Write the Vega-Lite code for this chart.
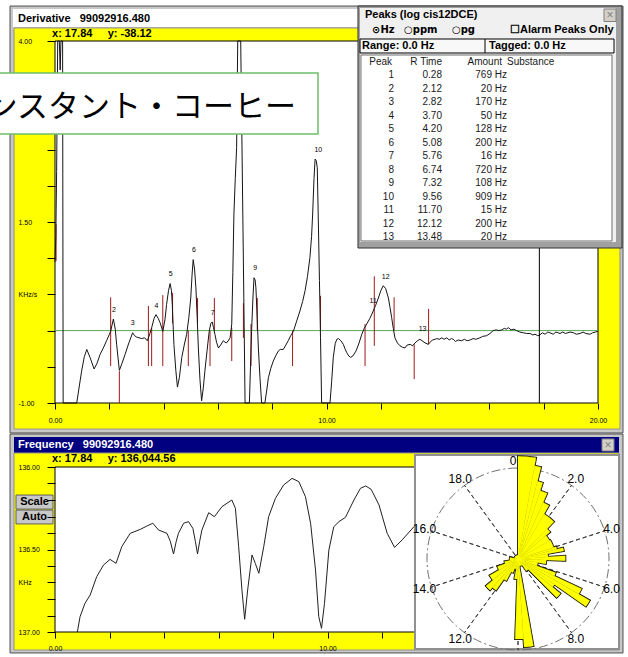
{
  "$schema": "https://vega.github.io/schema/vega-lite/v6.json",
  "width": 628,
  "height": 657,
  "autosize": {"type": "none"},
  "padding": 0,
  "background": "#ffffff",
  "config": {
    "font": "Liberation Sans",
    "view": {"stroke": null},
    "axis": {"labelFont": "Liberation Sans", "labelFontSize": 7, "labelColor": "#000000", "tickColor": "#000000", "tickWidth": 1, "grid": false, "domain": false, "labelFlush": false, "labelOverlap": false, "labelBound": false}
  },
  "datasets": {
    "deriv": [
      {"t":0.00,"v":0.95},{"t":0.03,"v":1.3},{"t":0.06,"v":2.2},{"t":0.10,"v":4.0},{"t":0.16,"v":4.0},{"t":0.19,"v":3.6},{"t":0.22,"v":4.0},{"t":0.28,"v":4.0},{"t":0.30,"v":-1.0},{"t":0.80,"v":-1.0},
      {"t":0.98,"v":-0.56},{"t":1.08,"v":-0.36},{"t":1.17,"v":-0.26},{"t":1.29,"v":-0.37},{"t":1.44,"v":-0.53},{"t":1.55,"v":-0.45},{"t":1.66,"v":-0.33},{"t":1.78,"v":-0.24},{"t":1.90,"v":-0.14},{"t":2.05,"v":-0.01},
      {"t":2.15,"v":0.16},{"t":2.22,"v":0.02},{"t":2.27,"v":-0.19},{"t":2.37,"v":-0.55},{"t":2.47,"v":-0.45},{"t":2.58,"v":-0.33},{"t":2.72,"v":-0.17},{"t":2.86,"v":-0.03},{"t":2.93,"v":-0.07},{"t":3.01,"v":-0.09},
      {"t":3.19,"v":-0.11},{"t":3.30,"v":-0.10},{"t":3.40,"v":-0.14},{"t":3.48,"v":-0.06},{"t":3.56,"v":0.04},{"t":3.65,"v":0.17},{"t":3.72,"v":0.22},{"t":3.80,"v":0.17},{"t":3.87,"v":0.11},{"t":3.97,"v":-0.01},
      {"t":4.05,"v":0.15},{"t":4.11,"v":0.36},{"t":4.18,"v":0.55},{"t":4.24,"v":0.65},{"t":4.29,"v":0.55},{"t":4.32,"v":0.36},{"t":4.38,"v":-0.19},{"t":4.45,"v":-0.55},{"t":4.51,"v":-0.78},{"t":4.58,"v":-0.65},
      {"t":4.67,"v":-0.37},{"t":4.76,"v":-0.20},{"t":4.85,"v":-0.05},{"t":4.93,"v":0.18},{"t":5.00,"v":0.45},{"t":5.05,"v":0.78},{"t":5.09,"v":0.98},{"t":5.14,"v":0.85},{"t":5.19,"v":0.59},{"t":5.24,"v":0.15},
      {"t":5.28,"v":-0.24},{"t":5.34,"v":-0.68},{"t":5.40,"v":-0.97},{"t":5.46,"v":-0.80},{"t":5.52,"v":-0.56},{"t":5.60,"v":-0.28},{"t":5.68,"v":-0.01},{"t":5.74,"v":0.10},{"t":5.79,"v":0.12},{"t":5.84,"v":0.04},
      {"t":5.89,"v":-0.05},{"t":5.95,"v":-0.16},{"t":6.02,"v":-0.24},{"t":6.10,"v":-0.20},{"t":6.20,"v":-0.14},{"t":6.26,"v":-0.16},{"t":6.32,"v":-0.17},{"t":6.40,"v":-0.13},{"t":6.45,"v":-0.10},{"t":6.51,"v":0.09},
      {"t":6.55,"v":0.80},{"t":6.59,"v":1.61},{"t":6.64,"v":2.10},{"t":6.69,"v":2.53},{"t":6.73,"v":4.0},{"t":6.84,"v":4.0},{"t":6.88,"v":2.76},{"t":6.94,"v":0.92},{"t":7.00,"v":-1.0},{"t":7.16,"v":-1.0},
      {"t":7.20,"v":-0.50},{"t":7.24,"v":-0.01},{"t":7.29,"v":0.45},{"t":7.33,"v":0.73},{"t":7.37,"v":0.70},{"t":7.40,"v":0.59},{"t":7.45,"v":0.15},{"t":7.49,"v":-0.24},{"t":7.55,"v":-0.65},{"t":7.61,"v":-1.0},
      {"t":7.73,"v":-1.0},{"t":7.80,"v":-0.82},{"t":7.86,"v":-0.65},{"t":7.95,"v":-0.52},{"t":8.04,"v":-0.42},{"t":8.14,"v":-0.34},{"t":8.23,"v":-0.28},{"t":8.30,"v":-0.26},{"t":8.41,"v":-0.26},{"t":8.50,"v":-0.20},
      {"t":8.59,"v":-0.14},{"t":8.68,"v":-0.07},{"t":8.78,"v":-0.01},{"t":8.90,"v":0.13},{"t":9.02,"v":0.27},{"t":9.12,"v":0.40},{"t":9.21,"v":0.55},{"t":9.30,"v":0.75},{"t":9.39,"v":1.01},{"t":9.45,"v":1.30},
      {"t":9.49,"v":1.61},{"t":9.54,"v":2.10},{"t":9.58,"v":2.37},{"t":9.62,"v":2.35},{"t":9.66,"v":2.25},{"t":9.70,"v":1.50},{"t":9.74,"v":0.69},{"t":9.78,"v":-0.10},{"t":9.82,"v":-1.0},{"t":10.13,"v":-1.0},
      {"t":10.19,"v":-0.70},{"t":10.25,"v":-0.37},{"t":10.32,"v":-0.18},{"t":10.38,"v":-0.12},{"t":10.44,"v":-0.11},{"t":10.53,"v":-0.14},{"t":10.62,"v":-0.19},{"t":10.68,"v":-0.25},{"t":10.74,"v":-0.30},{"t":10.82,"v":-0.35},
      {"t":10.89,"v":-0.37},{"t":10.97,"v":-0.35},{"t":11.09,"v":-0.28},{"t":11.20,"v":-0.17},{"t":11.30,"v":-0.05},{"t":11.39,"v":0.03},{"t":11.48,"v":0.09},{"t":11.60,"v":0.17},{"t":11.72,"v":0.27},{"t":11.81,"v":0.35},
      {"t":11.91,"v":0.45},{"t":12.00,"v":0.55},{"t":12.09,"v":0.62},{"t":12.18,"v":0.58},{"t":12.28,"v":0.45},{"t":12.34,"v":0.32},{"t":12.40,"v":0.18},{"t":12.46,"v":0.03},{"t":12.52,"v":-0.10},{"t":12.61,"v":-0.17},
      {"t":12.71,"v":-0.21},{"t":12.80,"v":-0.23},{"t":12.89,"v":-0.24},{"t":12.97,"v":-0.20},{"t":13.08,"v":-0.19},{"t":13.17,"v":-0.21},{"t":13.26,"v":-0.17},{"t":13.35,"v":-0.14},{"t":13.44,"v":-0.12},{"t":13.52,"v":-0.14},
      {"t":13.63,"v":-0.17},{"t":13.75,"v":-0.19},{"t":13.82,"v":-0.16},{"t":13.90,"v":-0.13},{"t":14.00,"v":-0.12},{"t":14.06,"v":-0.11},{"t":14.15,"v":-0.12},{"t":14.25,"v":-0.10},{"t":14.33,"v":-0.12},{"t":14.43,"v":-0.10},
      {"t":14.52,"v":-0.13},{"t":14.60,"v":-0.11},{"t":14.67,"v":-0.12},{"t":14.75,"v":-0.15},{"t":14.85,"v":-0.13},{"t":14.98,"v":-0.14},{"t":15.08,"v":-0.12},{"t":15.18,"v":-0.14},{"t":15.29,"v":-0.13},{"t":15.40,"v":-0.11},
      {"t":15.50,"v":-0.12},{"t":15.65,"v":-0.10},{"t":15.75,"v":-0.08},{"t":15.90,"v":-0.07},{"t":16.02,"v":-0.04},{"t":16.14,"v":0.00},{"t":16.25,"v":0.01},{"t":16.35,"v":0.00},{"t":16.45,"v":0.01},{"t":16.55,"v":0.03},
      {"t":16.62,"v":0.02},{"t":16.70,"v":0.04},{"t":16.80,"v":0.01},{"t":16.90,"v":0.02},{"t":17.00,"v":0.00},{"t":17.12,"v":-0.02},{"t":17.25,"v":-0.03},{"t":17.37,"v":-0.04},{"t":17.50,"v":-0.04},{"t":17.60,"v":-0.06},
      {"t":17.68,"v":-0.05},{"t":17.78,"v":-0.07},{"t":17.86,"v":-0.06},{"t":17.95,"v":-0.03},{"t":18.05,"v":-0.05},{"t":18.15,"v":-0.02},{"t":18.23,"v":-0.03},{"t":18.35,"v":-0.05},{"t":18.45,"v":-0.02},{"t":18.60,"v":-0.04},
      {"t":18.70,"v":-0.02},{"t":18.80,"v":-0.04},{"t":18.97,"v":-0.02},{"t":19.10,"v":-0.03},{"t":19.20,"v":-0.05},{"t":19.34,"v":-0.04},{"t":19.45,"v":-0.02},{"t":19.55,"v":-0.04},{"t":19.71,"v":-0.05},{"t":19.80,"v":-0.03},
      {"t":19.90,"v":-0.02},{"t":20.00,"v":-0.01}
    ],
    "markers": [
      {"t":0.04,"v1":1.47,"v2":0.96},{"t":2.05,"v1":0.46,"v2":-0.49},{"t":2.37,"v1":-0.56,"v2":-1.0},{"t":3.44,"v1":0.34,"v2":-0.49},{"t":3.56,"v1":0.04,"v2":-0.49},
      {"t":3.97,"v1":0.49,"v2":-0.49},{"t":4.33,"v1":0.52,"v2":0.10},{"t":4.91,"v1":0.0,"v2":-0.49},{"t":5.25,"v1":0.45,"v2":0.10},{"t":5.71,"v1":0.0,"v2":-0.49},
      {"t":5.87,"v1":0.45,"v2":0.0},{"t":6.51,"v1":0.04,"v2":-0.42},{"t":6.94,"v1":0.38,"v2":-0.10},{"t":7.22,"v1":0.09,"v2":-0.49},{"t":7.45,"v1":0.45,"v2":0.0},
      {"t":8.75,"v1":0.0,"v2":-0.49},{"t":9.78,"v1":0.48,"v2":0.0},{"t":11.42,"v1":0.09,"v2":-0.49},{"t":11.76,"v1":0.75,"v2":-0.21},{"t":12.49,"v1":0.46,"v2":0.0},
      {"t":13.23,"v1":-0.19,"v2":-0.67},{"t":13.76,"v1":0.30,"v2":-0.19}
    ],
    "peaklabels": [
      {"peak":2,"t":2.17,"v":0.28},{"peak":3,"t":2.86,"v":0.10},{"peak":4,"t":3.74,"v":0.34},{"peak":5,"t":4.26,"v":0.78},
      {"peak":6,"t":5.12,"v":1.12},{"peak":7,"t":5.81,"v":0.25},{"peak":9,"t":7.37,"v":0.86},{"peak":10,"t":9.70,"v":2.50},
      {"peak":11,"t":11.72,"v":0.41},{"peak":12,"t":12.18,"v":0.74},{"peak":13,"t":13.54,"v":0.02}
    ],
    "cursor": [{"x":17.84,"y":-38.12}],
    "freq": [
      {"t":0.82,"f":137.0},{"t":0.92,"f":136.907},{"t":1.10,"f":136.826},{"t":1.29,"f":136.776},{"t":1.53,"f":136.665},{"t":1.78,"f":136.594},{"t":2.02,"f":136.56},{"t":2.24,"f":136.584},
      {"t":2.45,"f":136.483},{"t":2.76,"f":136.402},{"t":3.13,"f":136.378},{"t":3.37,"f":136.358},{"t":3.59,"f":136.341},{"t":3.80,"f":136.382},{"t":4.11,"f":136.402},{"t":4.23,"f":136.45},
      {"t":4.35,"f":136.527},{"t":4.45,"f":136.45},{"t":4.53,"f":136.402},{"t":4.72,"f":136.341},{"t":4.90,"f":136.331},{"t":5.06,"f":136.372},{"t":5.15,"f":136.45},{"t":5.23,"f":136.527},
      {"t":5.31,"f":136.45},{"t":5.39,"f":136.382},{"t":5.64,"f":136.277},{"t":5.85,"f":136.301},{"t":6.13,"f":136.24},{"t":6.49,"f":136.20},{"t":6.62,"f":136.25},{"t":6.74,"f":136.483},
      {"t":6.86,"f":136.745},{"t":6.96,"f":136.923},{"t":7.07,"f":136.745},{"t":7.23,"f":136.533},{"t":7.35,"f":136.584},{"t":7.48,"f":136.644},{"t":7.66,"f":136.483},{"t":7.84,"f":136.301},
      {"t":8.09,"f":136.19},{"t":8.39,"f":136.109},{"t":8.70,"f":136.069},{"t":8.95,"f":136.089},{"t":9.19,"f":136.18},{"t":9.38,"f":136.341},{"t":9.56,"f":136.624},{"t":9.68,"f":136.907},
      {"t":9.78,"f":136.978},{"t":9.89,"f":136.826},{"t":10.05,"f":136.503},{"t":10.23,"f":136.362},{"t":10.42,"f":136.331},{"t":10.66,"f":136.305},{"t":10.97,"f":136.2},{"t":11.21,"f":136.129},
      {"t":11.40,"f":136.115},{"t":11.60,"f":136.135},{"t":11.89,"f":136.23},{"t":12.19,"f":136.402},{"t":12.46,"f":136.487},{"t":12.74,"f":136.442},{"t":13.17,"f":136.362},{"t":13.6,"f":136.30},
      {"t":14.2,"f":136.25},{"t":15.0,"f":136.15},{"t":16.0,"f":136.10},{"t":17.0,"f":136.07},{"t":17.84,"f":136.045},{"t":19.0,"f":136.05},{"t":20.0,"f":136.06}
    ],
    "peaks": [
      {"Peak":1,"RTime":0.28,"Amount":"769 Hz"},{"Peak":2,"RTime":2.12,"Amount":"20 Hz"},{"Peak":3,"RTime":2.82,"Amount":"170 Hz"},{"Peak":4,"RTime":3.70,"Amount":"50 Hz"},
      {"Peak":5,"RTime":4.20,"Amount":"128 Hz"},{"Peak":6,"RTime":5.08,"Amount":"200 Hz"},{"Peak":7,"RTime":5.76,"Amount":"16 Hz"},{"Peak":8,"RTime":6.74,"Amount":"720 Hz"},
      {"Peak":9,"RTime":7.32,"Amount":"108 Hz"},{"Peak":10,"RTime":9.56,"Amount":"909 Hz"},{"Peak":11,"RTime":11.70,"Amount":"15 Hz"},{"Peak":12,"RTime":12.12,"Amount":"200 Hz"},
      {"Peak":13,"RTime":13.48,"Amount":"20 Hz"}
    ],
    "spokes": [{"h":0},{"h":2},{"h":4},{"h":6},{"h":8},{"h":10},{"h":12},{"h":14},{"h":16},{"h":18}],
    "polar": [
      {"h0":0,"h1":0.56,"r":113},{"h0":0.56,"h1":0.78,"r":104},{"h0":0.78,"h1":1.0,"r":88},{"h0":1.0,"h1":1.33,"r":79},{"h0":1.33,"h1":1.67,"r":68},
      {"h0":1.67,"h1":2.44,"r":57},{"h0":2.44,"h1":2.78,"r":46},{"h0":2.78,"h1":3.33,"r":40},{"h0":3.33,"h1":4.0,"r":41},{"h0":4.0,"h1":4.22,"r":44},
      {"h0":4.22,"h1":4.44,"r":51},{"h0":4.44,"h1":4.78,"r":33},{"h0":4.78,"h1":5.11,"r":52},{"h0":5.11,"h1":5.56,"r":31},{"h0":5.56,"h1":6.11,"r":22},
      {"h0":6.11,"h1":6.39,"r":44},{"h0":6.39,"h1":6.67,"r":77},{"h0":6.67,"h1":6.94,"r":91},{"h0":6.94,"h1":7.17,"r":49},{"h0":7.17,"h1":7.5,"r":60},
      {"h0":7.5,"h1":8.06,"r":16},{"h0":8.06,"h1":9.44,"r":8},{"h0":9.44,"h1":9.78,"r":97},{"h0":9.78,"h1":10.11,"r":88},{"h0":10.11,"h1":10.56,"r":22},
      {"h0":10.56,"h1":11.11,"r":11},{"h0":11.11,"h1":11.56,"r":16},{"h0":11.56,"h1":11.94,"r":27},{"h0":11.94,"h1":12.33,"r":42},{"h0":12.33,"h1":12.78,"r":46},
      {"h0":12.78,"h1":13.33,"r":36},{"h0":13.33,"h1":13.89,"r":24},{"h0":13.89,"h1":14.44,"r":15},{"h0":14.44,"h1":15.56,"r":9},{"h0":15.56,"h1":20,"r":4}
    ]
  },
  "resolve": {
    "scale": {"x": "independent", "y": "independent", "theta": "independent", "radius": "independent"},
    "axis": {"x": "independent", "y": "independent"}
  },
  "layer": [
    {
      "layer": [
        {"data": {"values": [{}]}, "mark": {"type": "rect", "fill": "#c8c8c8", "stroke": "#505050", "strokeWidth": 1},
         "encoding": {"x": {"datum": -1.657, "type": "quantitative"}, "x2": {"datum": 20.921}, "y": {"datum": 4.483, "type": "quantitative"}, "y2": {"datum": -1.414}}},
        {"data": {"values": [{}]}, "mark": {"type": "rect", "fill": "#ffffff"},
         "encoding": {"x": {"datum": -1.547, "type": "quantitative"}, "x2": {"datum": 20.81}, "y": {"datum": 4.442, "type": "quantitative"}, "y2": {"datum": 4.193}}},
        {"data": {"values": [{}]}, "mark": {"type": "rect", "fill": "#ffff00", "stroke": "#909090", "strokeWidth": 1},
         "encoding": {"x": {"datum": -1.51, "type": "quantitative"}, "x2": {"datum": 20.81}, "y": {"datum": 4.18, "type": "quantitative"}, "y2": {"datum": -1.36}}},
        {"data": {"values": [{}]}, "mark": {"type": "text", "text": "Derivative\u00a0\u00a0\u00a099092916.480", "align": "left", "baseline": "middle", "font": "Liberation Sans", "fontSize": 11, "fontWeight": "bold", "color": "#000000"},
         "encoding": {"x": {"datum": -1.363, "type": "quantitative"}, "y": {"datum": 4.304, "type": "quantitative"}}},
        {"data": {"values": [{}]}, "mark": {"type": "text", "text": "x: 17.84\u00a0\u00a0\u00a0\u00a0\u00a0y: -38.12", "align": "left", "baseline": "middle", "font": "Liberation Sans", "fontSize": 11, "fontWeight": "bold", "color": "#000000"},
         "encoding": {"x": {"datum": -0.11, "type": "quantitative"}, "y": {"datum": 4.097, "type": "quantitative"}}},
        {"data": {"values": [{}]}, "mark": {"type": "rect", "fill": "#ffffff", "stroke": "#000000", "strokeWidth": 1},
         "encoding": {"x": {"datum": 0, "type": "quantitative"}, "x2": {"datum": 20}, "y": {"datum": -1, "type": "quantitative"}, "y2": {"datum": 4}}},
        {"data": {"values": [{}]}, "mark": {"type": "rule", "color": "#55aa55", "strokeWidth": 1},
         "encoding": {"x": {"datum": 0, "type": "quantitative"}, "x2": {"datum": 20}, "y": {"datum": 0, "type": "quantitative"}}},
        {"data": {"name": "markers"}, "mark": {"type": "rule", "color": "#a01818", "strokeWidth": 1},
         "encoding": {"x": {"field": "t", "type": "quantitative"}, "y": {"field": "v1", "type": "quantitative"}, "y2": {"field": "v2"}}},
        {"data": {"name": "deriv"}, "mark": {"type": "line", "color": "#151515", "strokeWidth": 1},
         "encoding": {
           "x": {"field": "t", "type": "quantitative", "scale": {"domain": [0, 20], "range": [55, 598], "nice": false, "zero": false},
                 "axis": {"orient": "bottom", "offset": -254, "zindex": 2, "values": [0,2,4,6,8,10,12,14,16,18,20], "labelExpr": "datum.value % 10 === 0 ? format(datum.value, '.2f') : ''", "tickSize": 6, "labelPadding": 7, "title": null}},
           "y": {"field": "v", "type": "quantitative", "scale": {"domain": [-1, 4], "range": [403, 41], "nice": false, "zero": false},
                 "axis": {"orient": "left", "offset": -55, "zindex": 2, "values": [-1,-0.5,0,0.5,1,1.5,2,2.5,4], "labelExpr": "datum.value === 4 ? '4.00' : datum.value === 1.5 ? '1.50' : datum.value === -1 ? '-1.00' : datum.value === 0.5 ? 'KHz/s' : ''", "tickSize": 8, "labelAlign": "left", "labelBaseline": "middle", "labelPadding": 29, "title": null}}
         }},
        {"data": {"name": "cursor"}, "mark": {"type": "rule", "color": "#000000", "strokeWidth": 1},
         "encoding": {"x": {"field": "x", "type": "quantitative"}, "y": {"datum": -1, "type": "quantitative"}, "y2": {"datum": 4}}},
        {"data": {"name": "peaklabels"}, "mark": {"type": "text", "font": "Liberation Sans", "fontSize": 7, "align": "center", "baseline": "middle", "color": "#000000"},
         "encoding": {"x": {"field": "t", "type": "quantitative"}, "y": {"field": "v", "type": "quantitative"}, "text": {"field": "peak"}}},
        {"data": {"values": [{}]}, "mark": {"type": "rect", "fill": "#ffffff", "stroke": "#6cbf6c", "strokeWidth": 1.5},
         "encoding": {"x": {"datum": -2.21, "type": "quantitative"}, "x2": {"datum": 9.687}, "y": {"datum": 3.558, "type": "quantitative"}, "y2": {"datum": 2.715}}},
        {"data": {"values": [{"label": "インスタント・コーヒー"}]}, "mark": {"type": "text", "align": "right", "baseline": "middle", "font": "Noto Sans CJK JP", "fontSize": 31, "color": "#000000"},
         "encoding": {"x": {"datum": 8.877, "type": "quantitative"}, "y": {"datum": 3.075, "type": "quantitative"}, "text": {"field": "label"}}}
      ]
    },
    {
      "layer": [
        {"data": {"values": [{}]}, "mark": {"type": "rect", "fill": "#a0a0a0", "stroke": "#303030", "strokeWidth": 1},
         "encoding": {"x": {"datum": 11.16, "type": "quantitative", "axis": null}, "x2": {"datum": 20.884}, "y": {"datum": -4.111, "type": "quantitative", "axis": null}, "y2": {"datum": 13.815}}},
        {"data": {"values": [{}]}, "mark": {"type": "rect", "fill": "#f0f0f0"},
         "encoding": {"x": {"datum": 11.234, "type": "quantitative", "axis": null}, "x2": {"datum": 20.663}, "y": {"datum": -3.963, "type": "quantitative", "axis": null}, "y2": {"datum": 13.37}}},
        {"data": {"values": [{}]}, "mark": {"type": "text", "text": "Peaks (log cis12DCE)", "align": "left", "baseline": "middle", "fontSize": 11, "fontWeight": "bold", "color": "#000000"},
         "encoding": {"x": {"datum": 11.418, "type": "quantitative", "axis": null}, "y": {"datum": -3.444, "type": "quantitative", "axis": null}}},
        {"data": {"values": [{}]}, "mark": {"type": "rect", "fill": "#d4d0c8", "stroke": "#808080", "strokeWidth": 1},
         "encoding": {"x": {"datum": 20.221, "type": "quantitative", "axis": null}, "x2": {"datum": 20.663}, "y": {"datum": -3.889, "type": "quantitative", "axis": null}, "y2": {"datum": -2.963}}},
        {"data": {"values": [{}]}, "mark": {"type": "text", "text": "×", "align": "center", "baseline": "middle", "fontSize": 12, "color": "#808080"},
         "encoding": {"x": {"datum": 20.442, "type": "quantitative", "axis": null}, "y": {"datum": -3.43, "type": "quantitative", "axis": null}}},
        {"data": {"values": [{}]}, "mark": {"type": "text", "text": "⊙Hz", "align": "left", "baseline": "middle", "font": "DejaVu Sans", "fontSize": 10, "fontWeight": "bold", "color": "#000000"},
         "encoding": {"x": {"datum": 11.676, "type": "quantitative", "axis": null}, "y": {"datum": -2.333, "type": "quantitative", "axis": null}}},
        {"data": {"values": [{}]}, "mark": {"type": "text", "text": "○ppm", "align": "left", "baseline": "middle", "font": "DejaVu Sans", "fontSize": 10, "fontWeight": "bold", "color": "#000000"},
         "encoding": {"x": {"datum": 12.855, "type": "quantitative", "axis": null}, "y": {"datum": -2.333, "type": "quantitative", "axis": null}}},
        {"data": {"values": [{}]}, "mark": {"type": "text", "text": "○pg", "align": "left", "baseline": "middle", "font": "DejaVu Sans", "fontSize": 10, "fontWeight": "bold", "color": "#000000"},
         "encoding": {"x": {"datum": 14.622, "type": "quantitative", "axis": null}, "y": {"datum": -2.333, "type": "quantitative", "axis": null}}},
        {"data": {"values": [{}]}, "mark": {"type": "text", "text": "☐Alarm Peaks Only", "align": "left", "baseline": "middle", "fontSize": 11, "fontWeight": "bold", "color": "#000000"},
         "encoding": {"x": {"datum": 16.759, "type": "quantitative", "axis": null}, "y": {"datum": -2.333, "type": "quantitative", "axis": null}}},
        {"data": {"values": [{}]}, "mark": {"type": "rect", "fill": "#f8f8f8", "stroke": "#000000", "strokeWidth": 1},
         "encoding": {"x": {"datum": 11.234, "type": "quantitative", "axis": null}, "x2": {"datum": 20.59}, "y": {"datum": -1.667, "type": "quantitative", "axis": null}, "y2": {"datum": -0.63}}},
        {"data": {"values": [{}]}, "mark": {"type": "rule", "color": "#000000", "strokeWidth": 1},
         "encoding": {"x": {"datum": 15.838, "type": "quantitative", "axis": null}, "y": {"datum": -1.667, "type": "quantitative", "axis": null}, "y2": {"datum": -0.63}}},
        {"data": {"values": [{}]}, "mark": {"type": "text", "text": "Range: 0.0 Hz", "align": "left", "baseline": "middle", "fontSize": 11, "fontWeight": "bold", "color": "#000000"},
         "encoding": {"x": {"datum": 11.308, "type": "quantitative", "axis": null}, "y": {"datum": -1.148, "type": "quantitative", "axis": null}}},
        {"data": {"values": [{}]}, "mark": {"type": "text", "text": "Tagged: 0.0 Hz", "align": "left", "baseline": "middle", "fontSize": 11, "fontWeight": "bold", "color": "#000000"},
         "encoding": {"x": {"datum": 15.985, "type": "quantitative", "axis": null}, "y": {"datum": -1.148, "type": "quantitative", "axis": null}}},
        {"data": {"values": [{}]}, "mark": {"type": "rect", "fill": "#ffffff", "stroke": "#707070", "strokeWidth": 1},
         "encoding": {"x": {"datum": 11.27, "type": "quantitative", "axis": null}, "x2": {"datum": 20.516}, "y": {"datum": -0.481, "type": "quantitative", "axis": null}, "y2": {"datum": 13.296}}},
        {"data": {"values": [{}]}, "mark": {"type": "text", "text": "Peak", "align": "right", "baseline": "middle", "fontSize": 10, "color": "#1a1a1a"},
         "encoding": {"x": {"datum": 12.413, "type": "quantitative", "axis": null}, "y": {"datum": 0, "type": "quantitative", "axis": null}}},
        {"data": {"values": [{}]}, "mark": {"type": "text", "text": "R Time", "align": "right", "baseline": "middle", "fontSize": 10, "color": "#1a1a1a"},
         "encoding": {"x": {"datum": 14.254, "type": "quantitative", "axis": null}, "y": {"datum": 0, "type": "quantitative", "axis": null}}},
        {"data": {"values": [{}]}, "mark": {"type": "text", "text": "Amount", "align": "right", "baseline": "middle", "fontSize": 10, "color": "#1a1a1a"},
         "encoding": {"x": {"datum": 16.464, "type": "quantitative", "axis": null}, "y": {"datum": 0, "type": "quantitative", "axis": null}}},
        {"data": {"values": [{}]}, "mark": {"type": "text", "text": "Substance", "align": "left", "baseline": "middle", "fontSize": 10, "color": "#1a1a1a"},
         "encoding": {"x": {"datum": 16.648, "type": "quantitative", "axis": null}, "y": {"datum": 0, "type": "quantitative", "axis": null}}},
        {"data": {"name": "peaks"}, "mark": {"type": "text", "align": "right", "baseline": "middle", "fontSize": 10, "color": "#1a1a1a"},
         "encoding": {"x": {"datum": 12.486, "type": "quantitative", "scale": {"domain": [0, 20], "range": [55, 598], "nice": false, "zero": false}, "axis": null},
                      "y": {"field": "Peak", "type": "quantitative", "scale": {"domain": [0, 13], "range": [61.5, 237], "nice": false, "zero": false}, "axis": null},
                      "text": {"field": "Peak"}}},
        {"data": {"name": "peaks"}, "mark": {"type": "text", "align": "right", "baseline": "middle", "fontSize": 10, "color": "#1a1a1a"},
         "encoding": {"x": {"datum": 14.254, "type": "quantitative", "axis": null}, "y": {"field": "Peak", "type": "quantitative", "axis": null}, "text": {"field": "RTime", "type": "quantitative", "format": ".2f"}}},
        {"data": {"name": "peaks"}, "mark": {"type": "text", "align": "right", "baseline": "middle", "fontSize": 10, "color": "#1a1a1a"},
         "encoding": {"x": {"datum": 16.648, "type": "quantitative", "axis": null}, "y": {"field": "Peak", "type": "quantitative", "axis": null}, "text": {"field": "Amount"}}}
      ]
    },
    {
      "layer": [
        {"data": {"values": [{}]}, "mark": {"type": "rect", "fill": "#c8c8c8", "stroke": "#505050", "strokeWidth": 1},
         "encoding": {"x": {"datum": -1.651, "type": "quantitative"}, "x2": {"datum": 20.844}, "y": {"datum": 135.8, "type": "quantitative"}, "y2": {"datum": 137.127}}},
        {"data": {"values": [{}]}, "mark": {"type": "rect", "fill": "#000080"},
         "encoding": {"x": {"datum": -1.505, "type": "quantitative"}, "x2": {"datum": 20.697}, "y": {"datum": 135.818, "type": "quantitative"}, "y2": {"datum": 135.915}}},
        {"data": {"values": [{}]}, "mark": {"type": "rect", "fill": "#ffff00", "stroke": "#909090", "strokeWidth": 1},
         "encoding": {"x": {"datum": -1.505, "type": "quantitative"}, "x2": {"datum": 20.697}, "y": {"datum": 135.915, "type": "quantitative"}, "y2": {"datum": 137.109}}},
        {"data": {"values": [{}]}, "mark": {"type": "rect", "fill": "#d4d0c8", "stroke": "#808080", "strokeWidth": 1},
         "encoding": {"x": {"datum": 20.073, "type": "quantitative"}, "x2": {"datum": 20.514}, "y": {"datum": 135.83, "type": "quantitative"}, "y2": {"datum": 135.903}}},
        {"data": {"values": [{}]}, "mark": {"type": "text", "text": "×", "align": "center", "baseline": "middle", "fontSize": 12, "color": "#808080"},
         "encoding": {"x": {"datum": 20.294, "type": "quantitative"}, "y": {"datum": 135.868, "type": "quantitative"}}},
        {"data": {"values": [{}]}, "mark": {"type": "text", "text": "Frequency\u00a0\u00a0\u00a099092916.480", "align": "left", "baseline": "middle", "fontSize": 11, "fontWeight": "bold", "color": "#ffffff"},
         "encoding": {"x": {"datum": -1.358, "type": "quantitative"}, "y": {"datum": 135.867, "type": "quantitative"}}},
        {"data": {"values": [{}]}, "mark": {"type": "text", "text": "x: 17.84\u00a0\u00a0\u00a0\u00a0\u00a0y: 136,044.56", "align": "left", "baseline": "middle", "fontSize": 11, "fontWeight": "bold", "color": "#000000"},
         "encoding": {"x": {"datum": -0.11, "type": "quantitative"}, "y": {"datum": 135.952, "type": "quantitative"}}},
        {"data": {"values": [{}]}, "mark": {"type": "rect", "fill": "#ffffff", "stroke": "#000000", "strokeWidth": 1},
         "encoding": {"x": {"datum": 0, "type": "quantitative"}, "x2": {"datum": 20}, "y": {"datum": 136, "type": "quantitative"}, "y2": {"datum": 137}}},
        {"data": {"name": "freq"}, "mark": {"type": "line", "color": "#202020", "strokeWidth": 1},
         "encoding": {
           "x": {"field": "t", "type": "quantitative", "scale": {"domain": [0, 20], "range": [55, 600], "nice": false, "zero": false},
                 "axis": {"orient": "bottom", "offset": -25, "zindex": 2, "values": [0,2,4,6,8,10,12], "labelExpr": "datum.value % 10 === 0 ? format(datum.value, '.2f') : ''", "tickSize": 6, "labelPadding": 6, "title": null}},
           "y": {"field": "f", "type": "quantitative", "scale": {"domain": [136, 137], "range": [467, 632], "nice": false, "zero": false},
                 "axis": {"orient": "left", "offset": -55, "zindex": 2, "values": [136,136.1,136.2,136.3,136.4,136.5,136.6,136.7,136.8,136.9,137], "labelExpr": "datum.value === 136 ? '136.00' : datum.value === 136.5 ? '136.50' : datum.value === 136.7 ? 'KHz' : datum.value === 137 ? '137.00' : ''", "tickSize": 8, "labelAlign": "left", "labelBaseline": "middle", "labelPadding": 29, "title": null}}
         }},
        {"data": {"values": [{}]}, "mark": {"type": "rect", "fill": "#c8c8c8", "stroke": "#606060", "strokeWidth": 1},
         "encoding": {"x": {"datum": -1.431, "type": "quantitative"}, "x2": {"datum": -0.073}, "y": {"datum": 136.17, "type": "quantitative"}, "y2": {"datum": 136.255}}},
        {"data": {"values": [{}]}, "mark": {"type": "rect", "fill": "#c8c8c8", "stroke": "#606060", "strokeWidth": 1},
         "encoding": {"x": {"datum": -1.431, "type": "quantitative"}, "x2": {"datum": -0.073}, "y": {"datum": 136.261, "type": "quantitative"}, "y2": {"datum": 136.345}}},
        {"data": {"values": [{}]}, "mark": {"type": "text", "text": "Scale", "align": "center", "baseline": "middle", "fontSize": 11, "fontWeight": "bold", "color": "#000000"},
         "encoding": {"x": {"datum": -0.752, "type": "quantitative"}, "y": {"datum": 136.212, "type": "quantitative"}}},
        {"data": {"values": [{}]}, "mark": {"type": "text", "text": "Auto", "align": "center", "baseline": "middle", "fontSize": 11, "fontWeight": "bold", "color": "#000000"},
         "encoding": {"x": {"datum": -0.752, "type": "quantitative"}, "y": {"datum": 136.303, "type": "quantitative"}}}
      ]
    },
    {
      "layer": [
        {"data": {"values": [{}]}, "mark": {"type": "rect", "fill": "#ffffff", "stroke": "#909090", "strokeWidth": 2},
         "encoding": {"x": {"datum": -1.132, "type": "quantitative", "scale": {"domain": [-1, 1], "range": [427, 609], "nice": false, "zero": false}, "axis": null}, "x2": {"datum": 1.11},
                      "y": {"datum": 1.143, "type": "quantitative", "scale": {"domain": [-1, 1], "range": [650, 468], "nice": false, "zero": false}, "axis": null}, "y2": {"datum": -0.989}}},
        {"data": {"values": [{}]}, "mark": {"type": "arc", "theta": 0, "theta2": 6.2832, "fill": "transparent", "stroke": "#707070", "strokeWidth": 1, "strokeDash": [9, 3, 2, 3]},
         "encoding": {"x": {"datum": 0, "type": "quantitative", "axis": null}, "y": {"datum": 0, "type": "quantitative", "axis": null},
                      "radius": {"datum": 100, "type": "quantitative", "scale": {"type": "linear", "domain": [0, 100], "range": [0, 91], "zero": true, "nice": false}}}},
        {"data": {"name": "spokes"}, "mark": {"type": "arc", "fill": "transparent", "stroke": "#404040", "strokeWidth": 1, "strokeDash": [4, 3], "strokeDashOffset": 2},
         "encoding": {"x": {"datum": 0, "type": "quantitative", "axis": null}, "y": {"datum": 0, "type": "quantitative", "axis": null},
                      "theta": {"field": "h", "type": "quantitative", "scale": {"domain": [0, 20]}, "stack": null}, "theta2": {"field": "h"},
                      "radius": {"datum": 100, "type": "quantitative"}, "radius2": {"datum": 0}}},
        {"data": {"name": "spokes"}, "transform": [{"filter": "datum.h !== 10"}], "mark": {"type": "text", "fontSize": 12, "align": "center", "baseline": "middle", "color": "#000000"},
         "encoding": {"x": {"datum": 0, "type": "quantitative", "axis": null}, "y": {"datum": 0, "type": "quantitative", "axis": null},
                      "theta": {"field": "h", "type": "quantitative", "stack": null}, "radius": {"datum": 108, "type": "quantitative"},
                      "text": {"field": "h", "type": "quantitative", "format": ".1f"}}},
        {"data": {"name": "polar"}, "mark": {"type": "arc", "fill": "#ffff00", "stroke": "#000000", "strokeWidth": 2},
         "encoding": {"x": {"datum": 0, "type": "quantitative", "axis": null}, "y": {"datum": 0, "type": "quantitative", "axis": null},
                      "theta": {"field": "h0", "type": "quantitative", "stack": null}, "theta2": {"field": "h1"},
                      "radius": {"field": "r", "type": "quantitative"}}},
        {"data": {"name": "polar"}, "mark": {"type": "arc", "fill": "#ffff00", "stroke": "#ffff00", "strokeWidth": 0.4},
         "encoding": {"x": {"datum": 0, "type": "quantitative", "axis": null}, "y": {"datum": 0, "type": "quantitative", "axis": null},
                      "theta": {"field": "h0", "type": "quantitative", "stack": null}, "theta2": {"field": "h1"},
                      "radius": {"field": "r", "type": "quantitative"}}}
      ]
    }
  ]
}
